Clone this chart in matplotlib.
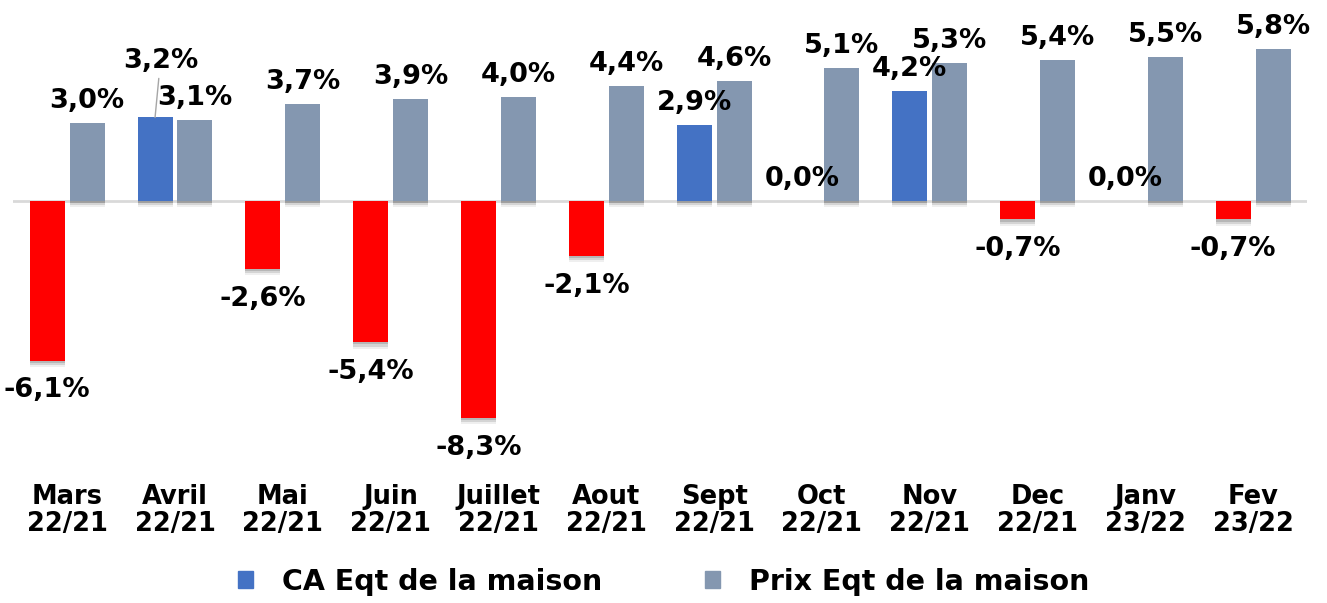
import matplotlib
matplotlib.use("Agg")
import matplotlib.pyplot as plt
from matplotlib.patches import Patch
import matplotlib.patheffects as pe
import numpy as np

categories = ["Mars\n22/21", "Avril\n22/21", "Mai\n22/21", "Juin\n22/21", "Juillet\n22/21",
              "Aout\n22/21", "Sept\n22/21", "Oct\n22/21", "Nov\n22/21", "Dec\n22/21",
              "Janv\n23/22", "Fev\n23/22"]
ca_values = [-6.1, 3.2, -2.6, -5.4, -8.3, -2.1, 2.9, 0.0, 4.2, -0.7, 0.0, -0.7]
prix_values = [3.0, 3.1, 3.7, 3.9, 4.0, 4.4, 4.6, 5.1, 5.3, 5.4, 5.5, 5.8]
series_names = ["CA Eqt de la maison", "Prix Eqt de la maison"]

BLUE = "#4472C4"
RED = "#FF0000"
GREY = "#8497B0"

plt.rcParams['font.family'] = ['DejaVu Sans']
plt.rcParams['font.weight'] = 'bold'

fig = plt.figure(figsize=(13.27, 6.03), dpi=100)
ax = fig.add_axes([0.01, 0.237, 0.975, 0.746])

x = np.arange(len(categories))
w = 0.325
off = 0.185

shadow = [pe.SimplePatchShadow(offset=(0, -1.5), shadow_rgbFace='#333333', alpha=0.18),
          pe.SimplePatchShadow(offset=(0, -3), shadow_rgbFace='#333333', alpha=0.14),
          pe.SimplePatchShadow(offset=(0, -4.5), shadow_rgbFace='#333333', alpha=0.08),
          pe.Normal()]

ca_colors = [BLUE if v > 0 else (RED if v < 0 else "#DDE3EE") for v in ca_values]
bars_ca = ax.bar(x - off, ca_values, w, color=ca_colors, zorder=3)
bars_px = ax.bar(x + off, prix_values, w, color=GREY, zorder=3)
for b in list(bars_ca) + list(bars_px):
    b.set_path_effects(shadow)

ax.axhline(0, color="#D9D9D9", lw=2, zorder=2)

def fmt(v):
    return f"{v:.1f}".replace(".", ",") + "%"

fs = 19.5
for i, v in enumerate(ca_values):
    if i == 1:
        ax.annotate(fmt(v), xy=(i - off, v), xytext=(i - off + 0.05, v + 2.15),
                    ha="center", va="center", fontsize=fs, fontweight="bold",
                    arrowprops=dict(arrowstyle="-", color="#A6A6A6", lw=1,
                                    shrinkA=1, shrinkB=0), zorder=5)
    elif v < 0:
        ax.annotate(fmt(v), xy=(i - off, v), xytext=(0, -12), textcoords="offset points",
                    ha="center", va="top", fontsize=fs, fontweight="bold")
    else:
        ax.annotate(fmt(v), xy=(i - off, v), xytext=(0, 6.5), textcoords="offset points",
                    ha="center", va="bottom", fontsize=fs, fontweight="bold")
for i, v in enumerate(prix_values):
    ax.annotate(fmt(v), xy=(i + off, v), xytext=(0, 6.5), textcoords="offset points",
                ha="center", va="bottom", fontsize=fs, fontweight="bold")

ax.set_xlim(-0.5, len(categories) - 0.5)
ax.set_ylim(-9.9, 7.3)
ax.set_xticks(x)
ax.set_xticklabels(categories, fontsize=18.5, fontweight="bold", linespacing=1.08)
ax.tick_params(axis="x", length=0, pad=17)
ax.set_yticks([])
for s in ax.spines.values():
    s.set_visible(False)

handles = [Patch(color=BLUE), Patch(color=GREY)]
fig.legend(handles, series_names, loc="center", bbox_to_anchor=(0.5, 0.035), ncol=2,
           frameon=False, handlelength=0.55, handleheight=0.55,
           columnspacing=3.6, handletextpad=1.0, prop={'weight': 'bold', 'size': 20.5})

fig.savefig("out.png", dpi=100)
